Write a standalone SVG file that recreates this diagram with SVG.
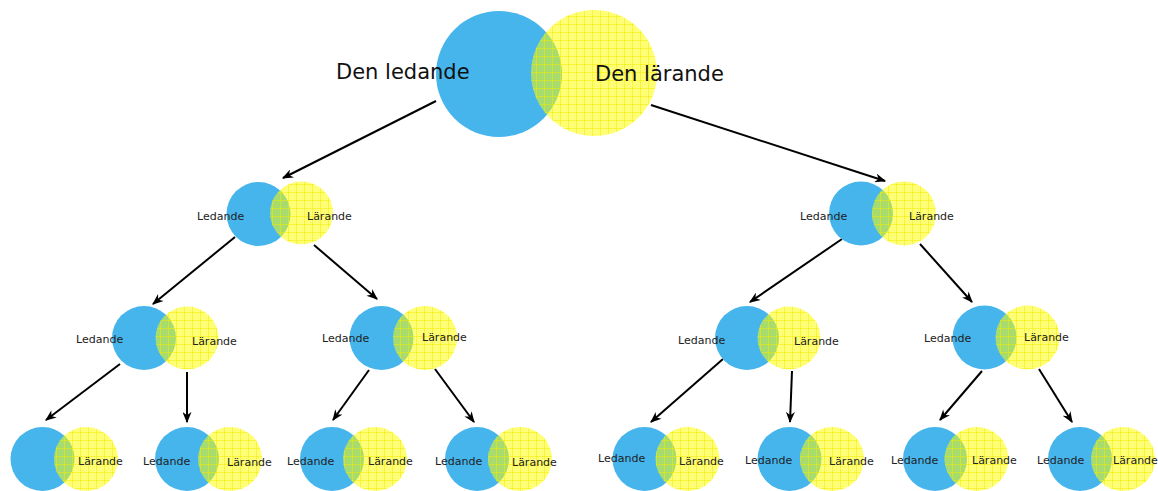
<svg xmlns="http://www.w3.org/2000/svg" width="1158" height="491" viewBox="0 0 1158 491">
<defs>
<style>
.b{fill:#45b5ec}
.y{fill:#ffff00;fill-opacity:0.52}
.g{fill:url(#grid)}
.t{font-family:"DejaVu Sans",Verdana,sans-serif;font-size:11px;fill:#222}
.T{font-family:"DejaVu Sans",Verdana,sans-serif;font-size:21px;fill:#111}
.c line{stroke:#000;stroke-width:2;marker-end:url(#ah)}
</style>
<pattern id="grid" width="8" height="8" patternUnits="userSpaceOnUse">
<path d="M0,0.5H8M0.5,0V8" stroke="#f2ea00" stroke-width="1" opacity="0.55" fill="none"/>
<rect x="2" y="2" width="1" height="1" fill="#e8e800" opacity="0.25"/>
<rect x="4" y="4" width="1" height="1" fill="#e8e800" opacity="0.25"/>
<rect x="6" y="2" width="1" height="1" fill="#e8e800" opacity="0.25"/>
<rect x="2" y="6" width="1" height="1" fill="#e8e800" opacity="0.25"/>
<rect x="6" y="6" width="1" height="1" fill="#e8e800" opacity="0.25"/>
</pattern>
<marker id="ah" viewBox="0 0 10 8" refX="9" refY="4" markerWidth="12" markerHeight="9" orient="auto" markerUnits="userSpaceOnUse">
<path d="M0,0 L10,4 L0,8 L3,4 z" fill="#000"/>
</marker>
</defs>
<g class="c" id="connectors">
<line x1="436" y1="101" x2="283" y2="178"/>
<line x1="651" y1="105" x2="885" y2="181"/>
<line x1="235" y1="237" x2="153" y2="304"/>
<line x1="314" y1="245" x2="377" y2="299"/>
<line x1="842" y1="239" x2="750" y2="302"/>
<line x1="920" y1="244" x2="972" y2="302"/>
<line x1="120" y1="364" x2="46" y2="420"/>
<line x1="187" y1="372" x2="187" y2="422"/>
<line x1="369" y1="370" x2="333" y2="420"/>
<line x1="435" y1="369" x2="474" y2="422"/>
<line x1="723" y1="359" x2="651" y2="422"/>
<line x1="792" y1="371" x2="790" y2="422"/>
<line x1="982" y1="371" x2="940" y2="420"/>
<line x1="1039" y1="369" x2="1072" y2="422"/>
</g>
<g id="top">
<circle class="b" cx="499" cy="74" r="63"/>
<circle class="y" cx="594" cy="73" r="63"/>
<circle class="g" cx="594" cy="73" r="63"/>
<text class="T" x="336" y="79">Den ledande</text>
<text class="T" x="595" y="81">Den lärande</text>
</g>
<g id="n1">
<circle class="b" cx="258.5" cy="214" r="32"/>
<circle class="y" cx="301.5" cy="213" r="31.5"/>
<circle class="g" cx="301.5" cy="213" r="31.5"/>
<text class="t" x="197" y="220">Ledande</text>
<text class="t" x="307" y="220">Lärande</text>
</g>
<g id="n2">
<circle class="b" cx="861" cy="213.5" r="32"/>
<circle class="y" cx="904" cy="213.5" r="32"/>
<circle class="g" cx="904" cy="213.5" r="32"/>
<text class="t" x="800" y="220">Ledande</text>
<text class="t" x="909" y="220">Lärande</text>
</g>
<g id="n3">
<circle class="b" cx="144" cy="338" r="32"/>
<circle class="y" cx="187" cy="338" r="31.5"/>
<circle class="g" cx="187" cy="338" r="31.5"/>
<text class="t" x="76" y="343">Ledande</text>
<text class="t" x="192" y="345">Lärande</text>
</g>
<g id="n4">
<circle class="b" cx="381.5" cy="338" r="32"/>
<circle class="y" cx="425" cy="338" r="32"/>
<circle class="g" cx="425" cy="338" r="32"/>
<text class="t" x="322" y="342">Ledande</text>
<text class="t" x="422" y="341">Lärande</text>
</g>
<g id="n5">
<circle class="b" cx="747" cy="338" r="32"/>
<circle class="y" cx="789" cy="338" r="31.5"/>
<circle class="g" cx="789" cy="338" r="31.5"/>
<text class="t" x="678" y="344">Ledande</text>
<text class="t" x="794" y="345">Lärande</text>
</g>
<g id="n6">
<circle class="b" cx="984.5" cy="337.5" r="32"/>
<circle class="y" cx="1027.5" cy="337.5" r="32"/>
<circle class="g" cx="1027.5" cy="337.5" r="32"/>
<text class="t" x="924" y="342">Ledande</text>
<text class="t" x="1024" y="341">Lärande</text>
</g>
<g id="n7">
<circle class="b" cx="42.5" cy="459" r="32"/>
<circle class="y" cx="86" cy="459" r="32"/>
<circle class="g" cx="86" cy="459" r="32"/>
<text class="t" x="78" y="465">Lärande</text>
</g>
<g id="n8">
<circle class="b" cx="187" cy="459" r="32"/>
<circle class="y" cx="230" cy="459" r="32"/>
<circle class="g" cx="230" cy="459" r="32"/>
<text class="t" x="143" y="465">Ledande</text>
<text class="t" x="227" y="466">Lärande</text>
</g>
<g id="n9">
<circle class="b" cx="332" cy="459" r="32"/>
<circle class="y" cx="375" cy="459" r="32"/>
<circle class="g" cx="375" cy="459" r="32"/>
<text class="t" x="287" y="465">Ledande</text>
<text class="t" x="368" y="465">Lärande</text>
</g>
<g id="n10">
<circle class="b" cx="477" cy="459" r="32"/>
<circle class="y" cx="520" cy="459" r="32"/>
<circle class="g" cx="520" cy="459" r="32"/>
<text class="t" x="435" y="465">Ledande</text>
<text class="t" x="512" y="466">Lärande</text>
</g>
<g id="n11">
<circle class="b" cx="644.5" cy="459" r="32"/>
<circle class="y" cx="687.5" cy="459" r="32"/>
<circle class="g" cx="687.5" cy="459" r="32"/>
<text class="t" x="598" y="462">Ledande</text>
<text class="t" x="679" y="465">Lärande</text>
</g>
<g id="n12">
<circle class="b" cx="789.5" cy="459" r="32"/>
<circle class="y" cx="832" cy="459" r="32"/>
<circle class="g" cx="832" cy="459" r="32"/>
<text class="t" x="745" y="464">Ledande</text>
<text class="t" x="829" y="465">Lärande</text>
</g>
<g id="n13">
<circle class="b" cx="935" cy="459" r="32"/>
<circle class="y" cx="976.5" cy="459" r="32"/>
<circle class="g" cx="976.5" cy="459" r="32"/>
<text class="t" x="891" y="464">Ledande</text>
<text class="t" x="972" y="464">Lärande</text>
</g>
<g id="n14">
<circle class="b" cx="1080" cy="459" r="32"/>
<circle class="y" cx="1123" cy="459" r="32"/>
<circle class="g" cx="1123" cy="459" r="32"/>
<text class="t" x="1037" y="464">Ledande</text>
<text class="t" x="1113" y="464">Lärande</text>
</g>
</svg>
